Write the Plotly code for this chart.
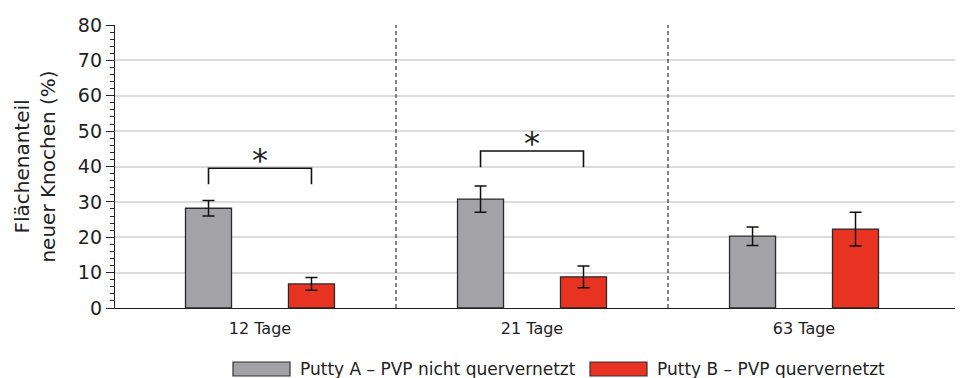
import plotly.graph_objects as go

categories = ["12 Tage", "21 Tage", "63 Tage"]
series_names = ["Putty A – PVP nicht quervernetzt", "Putty B – PVP quervernetzt"]
putty_a = [28.2, 30.8, 20.3]
putty_a_err = [2.2, 3.7, 2.6]
putty_b = [6.8, 8.8, 22.3]
putty_b_err = [1.8, 3.1, 4.8]
colors = ["#a3a2a7", "#e83323"]

sig_groups = [0, 1]
sig_top = [39.5, 44.4]
sig_bottom = [35.0, 39.8]
sig_label = ["*", "*"]

BARGAP = 0.243
GROUPGAP = 0.553
half = (1 - BARGAP) / 4  # offset of bar centers from category center

fig = go.Figure()
x = list(range(len(categories)))
for name, vals, errs, col in zip(series_names, [putty_a, putty_b], [putty_a_err, putty_b_err], colors):
    fig.add_trace(go.Bar(
        x=x, y=vals, name=name,
        marker=dict(color=col, line=dict(color="#2a2a2a", width=1.3)),
        error_y=dict(type="data", array=errs, color="#111", thickness=1.5, width=6),
        showlegend=False,
    ))

shapes = []
# dashed dividers between groups
for i in range(len(categories) - 1):
    shapes.append(dict(type="line", xref="x", yref="paper", x0=i + 0.5, x1=i + 0.5, y0=0, y1=1,
                       line=dict(color="#333", width=1.2, dash="4px,3px")))
annotations = []
for g, top, bot, lab in zip(sig_groups, sig_top, sig_bottom, sig_label):
    xa, xb = g - half, g + half
    shapes.append(dict(type="path", xref="x", yref="y",
                       path=f"M {xa},{bot} L {xa},{top} L {xb},{top} L {xb},{bot}",
                       line=dict(color="#111", width=1.6)))
    annotations.append(dict(x=g, y=top + 2.2, xref="x", yref="y", text=lab, showarrow=False,
                            yanchor="middle", font=dict(size=32, color="#222", family="DejaVu Sans")))

# custom legend below the plot (paper coordinates)
L, R, T, B = 115, 16, 25, 70
W, H = 971 - L - R, 378 - T - B
def px(xp):
    return (xp - L) / W
def py(yp):
    return (378 - B - yp) / H
leg_x = [233, 590]
for name, col, lx in zip(series_names, colors, leg_x):
    shapes.append(dict(type="rect", xref="paper", yref="paper", x0=px(lx), x1=px(lx + 57),
                       y0=py(376), y1=py(362), fillcolor=col, line=dict(color="#333", width=1.2)))
    annotations.append(dict(x=px(lx + 65), y=py(369), xref="paper", yref="paper", text=name,
                            showarrow=False, xanchor="left", yanchor="middle",
                            font=dict(size=17, color="#222", family="DejaVu Sans")))

fig.update_layout(
    width=971, height=378,
    margin=dict(l=L, r=R, t=T, b=B),
    paper_bgcolor="white", plot_bgcolor="white",
    barmode="group", bargap=BARGAP, bargroupgap=GROUPGAP,
    shapes=shapes, annotations=annotations,
    font=dict(family="DejaVu Sans", color="#222"),
    xaxis=dict(tickmode="array", tickvals=x, ticktext=categories, range=[-0.533, 2.555],
               showline=True, linecolor="#222", linewidth=1.3, ticks="", showgrid=False,
               ticklabelstandoff=6,
               tickfont=dict(size=16, family="DejaVu Sans")),
    yaxis=dict(range=[0, 80], dtick=10, showline=True, linecolor="#222", linewidth=1.3,
               ticks="outside", ticklen=8, tickcolor="#222", tickwidth=1.2,
               minor=dict(dtick=2, ticks="outside", ticklen=4, tickcolor="#222", showgrid=False),
               showgrid=True, gridcolor="#dcdcdc", gridwidth=1.5, zeroline=False,
               tickfont=dict(size=19, family="DejaVu Sans"),
               title=dict(text="Flächenanteil<br>neuer Knochen (%)", font=dict(size=20), standoff=16)),
)

fig.write_html("out.html")
